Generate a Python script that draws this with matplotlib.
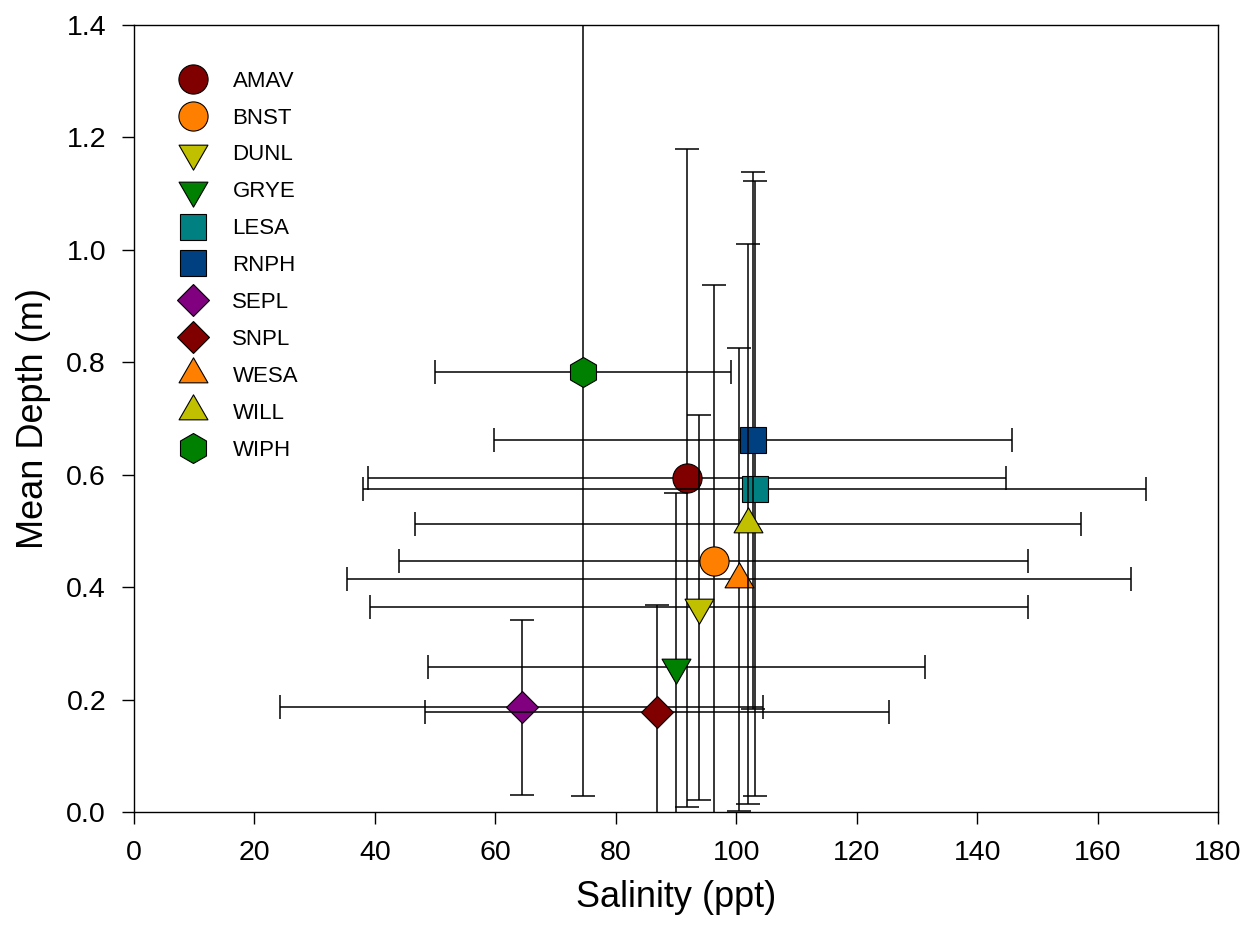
import matplotlib
matplotlib.use("Agg")
import matplotlib.pyplot as plt
from matplotlib.lines import Line2D
from matplotlib.path import Path

plt.rcParams['font.family'] = ['Liberation Sans', 'DejaVu Sans']

species = ['AMAV', 'BNST', 'DUNL', 'GRYE', 'LESA', 'RNPH',
           'SEPL', 'SNPL', 'WESA', 'WILL', 'WIPH']
salinity = [91.85, 96.25, 93.8, 90.05, 103.05, 102.75, 64.35, 86.85, 100.45, 102.0, 74.55]
salinity_sd = [52.95, 52.25, 54.6, 41.25, 64.95, 43.05, 40.15, 38.55, 65.05, 55.3, 24.55]
depth = [0.594, 0.447, 0.364, 0.258, 0.575, 0.661, 0.186, 0.178, 0.414, 0.512, 0.782]
depth_sd = [0.586, 0.491, 0.342, 0.310, 0.547, 0.477, 0.155, 0.190, 0.412, 0.498, 0.754]

colors = ['#800000', '#ff8000', '#c0c000', '#008000', '#008080', '#004080',
          '#800080', '#800000', '#ff8000', '#c0c000', '#008000']

# equilateral triangles centred on their centroid (like the original symbols)
tri_up = [(0, 1), (-0.866, -0.5), (0.866, -0.5), (0, 1)]
tri_dn = [(0, -1), (-0.866, 0.5), (0.866, 0.5), (0, -1)]
up = Path(tri_up, closed=True)
dn = Path(tri_dn, closed=True)

# marker, size (pt)
styles = {
    'AMAV': ('o', 21), 'BNST': ('o', 21),
    'DUNL': (dn, 24), 'GRYE': (dn, 24),
    'LESA': ('s', 18.7), 'RNPH': ('s', 18.7),
    'SEPL': ('D', 16.8), 'SNPL': ('D', 16.8),
    'WESA': (up, 24), 'WILL': (up, 24),
    'WIPH': ('h', 21.6),
}


def main():
    fig = plt.figure(figsize=(12.49, 9.30), dpi=100)
    ax = fig.add_axes([0.1073, 0.1269, 0.8679, 0.8462])

    handles = []
    for i, sp in enumerate(species):
        mk, ms = styles[sp]
        z = 2 + i
        ax.errorbar(salinity[i], depth[i], xerr=salinity_sd[i], yerr=depth_sd[i],
                    fmt='none', ecolor='black', elinewidth=1.1, capsize=8.3,
                    capthick=1.1, zorder=z)
        ax.plot(salinity[i], depth[i], linestyle='none', marker=mk, markersize=ms,
                markerfacecolor=colors[i], markeredgecolor='black',
                markeredgewidth=0.8, zorder=z + 0.5)
        handles.append(Line2D([], [], linestyle='none', marker=mk, markersize=ms,
                              markerfacecolor=colors[i], markeredgecolor='black',
                              markeredgewidth=0.8, label=sp))

    ax.set_xlim(0, 180)
    ax.set_ylim(0, 1.4)
    ax.set_xticks(range(0, 181, 20))
    ax.set_yticks([0.0, 0.2, 0.4, 0.6, 0.8, 1.0, 1.2, 1.4])
    ax.set_yticklabels([f'{v:.1f}' for v in ax.get_yticks()])
    ax.tick_params(direction='out', length=8.6, width=1.0, pad=11.5,
                   labelsize=20.5, top=False, right=False)
    for s in ax.spines.values():
        s.set_linewidth(1.0)

    ax.set_xlabel('Salinity (ppt)', fontsize=26, labelpad=10)
    ax.set_ylabel('Mean Depth (m)', fontsize=26, labelpad=11)

    ax.legend(handles=handles, loc='upper left', bbox_to_anchor=(0.041, 0.942),
              frameon=False, fontsize=16, handlelength=1.3, handletextpad=1.13,
              labelspacing=0.716, borderpad=0, borderaxespad=0)

    fig.savefig('out.png', dpi=100)


if __name__ == '__main__':
    main()
